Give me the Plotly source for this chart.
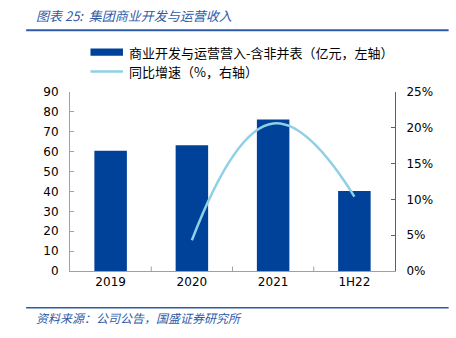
import plotly.graph_objects as go

categories = ["2019", "2020", "2021", "1H22"]
revenue = [60.5, 63.2, 76.2, 40.2]
growth_cats = ["2020", "2021", "1H22"]
growth = [4.3, 20.6, 10.4]
left_ticks = [0, 10, 20, 30, 40, 50, 60, 70, 80, 90]
right_ticks = [0, 5, 10, 15, 20, 25]

BAR = "#00419A"
LINE = "#8FD0E6"
BLUE_TXT = "#2E5BA8"
FONT = "DejaVu Sans, Noto Sans CJK SC, sans-serif"
CJK = "Noto Sans CJK SC, sans-serif"

fig = go.Figure()
fig.add_trace(go.Bar(x=categories, y=revenue, marker_color=BAR, width=0.4,
                     marker_line_width=0, name="商业开发与运营营入-含非并表（亿元，左轴）",
                     showlegend=False))
fig.add_trace(go.Scatter(x=growth_cats, y=growth, yaxis="y2", mode="lines",
                         line=dict(color=LINE, width=2.5, shape="spline", smoothing=1.3),
                         name="同比增速（%，右轴）", showlegend=False))

fig.update_layout(
    width=456, height=338,
    margin=dict(l=70, r=61, t=92, b=67),
    paper_bgcolor="white", plot_bgcolor="white",
    font=dict(family=FONT, size=12, color="#000000"),
    xaxis=dict(type="category", categoryorder="array", categoryarray=categories,
               showline=True, linecolor="#A0A0A0", linewidth=1,
               ticks="", tickfont=dict(size=12), showgrid=False),
    yaxis=dict(range=[0, 90], tickvals=left_ticks, showline=True, linecolor="#A0A0A0",
               ticks="inside", ticklen=4, tickcolor="#A0A0A0", showgrid=False,
               zeroline=False, tickfont=dict(size=12), ticklabelstandoff=8),
    yaxis2=dict(range=[0, 25], tickvals=right_ticks, ticktext=[f"{v}%" for v in right_ticks],
                overlaying="y", side="right", showline=True, linecolor="#606060",
                ticks="inside", ticklen=4, tickcolor="#606060", showgrid=False,
                zeroline=False, tickfont=dict(size=12), ticklabelstandoff=8),
    bargap=0.6,
)

# x-axis separator ticks between categories
for xv in [0.5, 1.5, 2.5]:
    fig.add_shape(type="line", xref="x", yref="paper", x0=xv, x1=xv, y0=0, y1=0.025,
                  line=dict(color="#A0A0A0", width=1))

# header and footer rules
fig.add_shape(type="line", xref="paper", yref="paper", x0=-0.135, x1=1.165,
              y0=1.345, y1=1.345, line=dict(color="#2E5BA8", width=2))
fig.add_shape(type="line", xref="paper", yref="paper", x0=-0.135, x1=1.165,
              y0=-0.205, y1=-0.205, line=dict(color="#2E5BA8", width=1.5))

fig.add_annotation(text="图表 25:  集团商业开发与运营收入", xref="paper", yref="paper",
                   x=-0.11, y=1.43, xanchor="left", yanchor="middle", showarrow=False,
                   font=dict(family=CJK, size=13, color=BLUE_TXT, style="italic"))
fig.add_annotation(text="资料来源：公司公告，国盛证券研究所", xref="paper", yref="paper",
                   x=-0.11, y=-0.26, xanchor="left", yanchor="middle", showarrow=False,
                   font=dict(family=CJK, size=12, color=BLUE_TXT, style="italic"))

# legend drawn manually
fig.add_shape(type="rect", xref="paper", yref="paper", x0=0.063, x1=0.163,
              y0=1.203, y1=1.243, fillcolor=BAR, line_width=0)
fig.add_shape(type="line", xref="paper", yref="paper", x0=0.063, x1=0.163,
              y0=1.115, y1=1.115, line=dict(color=LINE, width=2.5))
fig.add_annotation(text="商业开发与运营营入-含非并表（亿元，左轴）", xref="paper", yref="paper",
                   x=0.175, y=1.223, xanchor="left", yanchor="middle", showarrow=False,
                   font=dict(family=CJK, size=13, color="#000000"))
fig.add_annotation(text="同比增速（%，右轴）", xref="paper", yref="paper",
                   x=0.175, y=1.115, xanchor="left", yanchor="middle", showarrow=False,
                   font=dict(family=CJK, size=13, color="#000000"))

fig.write_html("out.html")
